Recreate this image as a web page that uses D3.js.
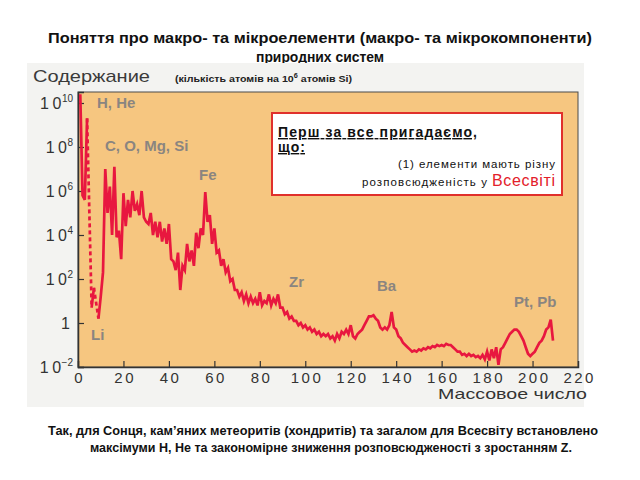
<!DOCTYPE html>
<html>
<head>
<meta charset="utf-8">
<script src="https://d3js.org/d3.v7.min.js"></script>
<style>
  body { margin: 0; background: #fff; }
  svg { display: block; font-family: "Liberation Sans", Arial, sans-serif; }
</style>
</head>
<body>
<svg id="chart" width="640" height="480"></svg>
<script>
// mass numbers 1..209 and log10 abundance (atoms per 10^6 Si), null where no stable nuclide
const massStart = 1;
const logAbundance = [
  10.4, 5.8, 5.6, 9.3, null, 0.7, 1.6, null, 0.2, 1.2,          // 1-10
  2.3, 7.0, 5.0, 6.2, 4.0, 7.1, 3.9, 4.2, 2.9, 5.9,             // 11-20
  4.4, 5.6, 4.8, 6.0, 5.1, 5.4, 4.9, 6.0, 4.8, 4.6,             // 21-30
  4.5, 5.0, 4.0, 4.6, 3.9, 4.6, 3.7, 4.3, 3.6, 4.5,             // 31-40
  2.9, 2.8, 2.4, 3.2, 1.5, 2.6, 2.4, 3.6, 2.8, 3.3,             // 41-50
  2.6, 4.1, 3.4, 4.3, 4.0, 5.95, 4.6, 4.9, 3.6, 4.3,            // 51-60
  3.2, 3.3, 2.6, 2.9, 2.3, 2.5, 1.9, 2.0, 1.5, 1.5,             // 61-70
  1.2, 1.4, 1.0, 1.3, 0.9, 1.2, 0.9, 1.1, 0.8, 1.4,             // 71-80
  0.8, 1.0, 0.9, 1.3, 0.8, 1.1, 0.9, 1.3, 0.7, 0.7,             // 81-90
  0.4, 0.5, 0.2, 0.3, 0.1, 0.1, -0.1, 0.0, -0.2, -0.1,          // 91-100
  -0.3, -0.2, -0.4, -0.3, -0.5, -0.4, -0.6, -0.5, -0.6, -0.5,   // 101-110
  -0.7, -0.6, -0.8, -0.5, -0.7, -0.4, -0.5, -0.3, -0.5, -0.1,   // 111-120
  -0.6, -0.7, -0.5, -0.4, -0.3, -0.1, 0.1, 0.3, 0.3, 0.35,      // 121-130
  0.2, 0.1, -0.2, -0.3, -0.2, -0.3, -0.1, 0.5, -0.2, -0.3,      // 131-140
  -0.6, -0.7, -0.9, -1.0, -1.1, -1.2, -1.3, -1.25, -1.3, -1.2,  // 141-150
  -1.25, -1.15, -1.2, -1.1, -1.15, -1.05, -1.1, -1.0, -1.05, -1.0, // 151-160
  -1.05, -0.95, -1.0, -1.0, -1.1, -1.2, -1.3, -1.3, -1.45, -1.4, // 161-170
  -1.5, -1.4, -1.5, -1.45, -1.55, -1.5, -1.6, -1.45, -1.65, -1.3, // 171-180
  -1.7, -1.2, -1.6, -1.1, -1.9, -1.2, -1.1, -0.9, -0.7, -0.5,   // 181-190
  -0.4, -0.3, -0.3, -0.4, -0.6, -0.8, -1.1, -1.4, -1.5, -1.4,   // 191-200
  -1.3, -1.1, -0.9, -0.8, -0.6, -0.3, -0.2, 0.15, -0.8          // 201-209
];
// gaps at A=5 and A=8 bridged with dashes
const gapPairs = [[4, 6], [7, 9]];

const yTicks = [-2, 0, 2, 4, 6, 8, 10];
const xTicks = [0, 20, 40, 60, 80, 100, 120, 140, 160, 180, 200, 220];

const elementLabels = [
  { text: "H, He", x: 97, y: 108 },
  { text: "C, O, Mg, Si", x: 105, y: 151 },
  { text: "Fe", x: 199, y: 180 },
  { text: "Zr", x: 289, y: 287 },
  { text: "Ba", x: 377, y: 291 },
  { text: "Pt, Pb", x: 514, y: 307 },
  { text: "Li", x: 91, y: 340 }
];

const svg = d3.select("#chart");

const margin = { left: 78, right: 578, top: 92, bottom: 367 };

const data = logAbundance.map((v, i) => ({ a: massStart + i, v: v }));

const x = d3.scaleLinear().domain([0, 220]).range([margin.left, margin.right]);
const y = d3.scaleLinear().domain([-2, 10.5]).range([margin.bottom, margin.top]);

// titles
svg.append("text")
  .attr("x", 320).attr("y", 43)
  .attr("text-anchor", "middle")
  .attr("font-size", 14).attr("font-weight", "bold").attr("fill", "#111")
  .attr("textLength", 544).attr("lengthAdjust", "spacingAndGlyphs")
  .text("Поняття про макро- та мікроелементи (макро- та мікрокомпоненти)");
svg.append("text")
  .attr("x", 320).attr("y", 62)
  .attr("text-anchor", "middle")
  .attr("font-size", 14).attr("font-weight", "bold").attr("fill", "#111")
  .attr("textLength", 128).attr("lengthAdjust", "spacingAndGlyphs")
  .text("природних систем");

// grey panel behind the picture
svg.append("rect")
  .attr("x", 27).attr("y", 63).attr("width", 557).attr("height", 344)
  .attr("fill", "#f3f3f1");

svg.append("text")
  .attr("x", 33).attr("y", 82)
  .attr("font-size", 17).attr("fill", "#3a3a3a")
  .attr("textLength", 117).attr("lengthAdjust", "spacingAndGlyphs")
  .text("Содержание");

const sub = svg.append("text")
  .attr("x", 175).attr("y", 82)
  .attr("font-size", 9.5).attr("font-weight", "bold").attr("fill", "#222")
  .attr("textLength", 177).attr("lengthAdjust", "spacingAndGlyphs");
sub.append("tspan").text("(кількість атомів на 10");
sub.append("tspan").attr("font-size", 6.5).attr("dy", -4).text("6");
sub.append("tspan").attr("dy", 4).text(" атомів Si)");

// plot area
svg.append("rect")
  .attr("x", margin.left).attr("y", margin.top)
  .attr("width", margin.right - margin.left).attr("height", margin.bottom - margin.top)
  .attr("fill", "#f6c680").attr("stroke", "#4a4a4a").attr("stroke-width", 1);

// y axis
const yAxis = d3.axisLeft(y).tickValues(yTicks).tickSize(-6).tickPadding(6).tickFormat("");
const gy = svg.append("g").attr("transform", `translate(${margin.left},0)`).call(yAxis);
gy.select(".domain").attr("stroke", "#333").attr("stroke-width", 1.5);
gy.selectAll(".tick line").attr("stroke", "#333").attr("stroke-width", 1.2);
gy.selectAll(".tick").each(function (d) {
  const t = d3.select(this).select("text")
    .attr("x", -5).attr("dy", "0.35em")
    .attr("font-size", 16).attr("fill", "#333")
    .attr("font-family", "'Liberation Sans', Arial, sans-serif");
  if (d === 0) {
    t.attr("x", -8).text("1");
  } else {
    t.append("tspan").attr("letter-spacing", 3.5).text("1");
    t.append("tspan").text("0");
    t.append("tspan").attr("font-size", 10).attr("dx", 0.5).attr("dy", -7).text(d < 0 ? "−" + (-d) : d);
  }
});

// x axis
const xAxis = d3.axisBottom(x).tickValues(xTicks).tickSize(-6).tickPadding(5).tickFormat(d3.format("d"));
const gx = svg.append("g").attr("transform", `translate(0,${margin.bottom})`).call(xAxis);
gx.select(".domain").attr("stroke", "#333").attr("stroke-width", 1.5);
gx.selectAll(".tick line").attr("stroke", "#333").attr("stroke-width", 1.2)
  .attr("display", d => (d === 0 || d === 220) ? "none" : null);
gx.selectAll(".tick text")
  .attr("font-size", 15).attr("fill", "#333")
  .attr("letter-spacing", 2.5).attr("dx", 1.2)
  .attr("font-family", "'Liberation Sans', Arial, sans-serif");

svg.append("text")
  .attr("x", 587).attr("y", 399)
  .attr("text-anchor", "end")
  .attr("font-size", 15).attr("fill", "#333")
  .attr("textLength", 149).attr("lengthAdjust", "spacingAndGlyphs")
  .text("Массовое число");

// abundance curve
const line = d3.line()
  .defined(d => d.v !== null)
  .x(d => x(d.a))
  .y(d => y(d.v));

svg.append("path")
  .datum(data)
  .attr("d", line)
  .attr("fill", "none")
  .attr("stroke", "#e8173f")
  .attr("stroke-width", 2.7)
  .attr("stroke-linejoin", "miter");

gapPairs.forEach(p => {
  const seg = p.map(a => data[a - massStart]);
  svg.append("path")
    .datum(seg)
    .attr("d", line)
    .attr("fill", "none")
    .attr("stroke", "#e8173f")
    .attr("stroke-width", 2.7)
    .attr("stroke-dasharray", "4,3");
});

// element labels
svg.selectAll(".elab")
  .data(elementLabels)
  .join("text")
  .attr("class", "elab")
  .attr("x", d => d.x).attr("y", d => d.y)
  .attr("font-size", 15).attr("font-weight", "bold").attr("fill", "#8a8580")
  .text(d => d.text);

// note box
svg.append("rect")
  .attr("x", 272).attr("y", 113).attr("width", 290).attr("height", 82)
  .attr("fill", "#fff").attr("stroke", "#e0302c").attr("stroke-width", 2);

svg.append("text")
  .attr("x", 278).attr("y", 137)
  .attr("font-size", 14).attr("font-weight", "bold").attr("fill", "#111")
  .attr("text-decoration", "underline")
  .attr("textLength", 199).attr("lengthAdjust", "spacing")
  .text("Перш за все пригадаємо,");
svg.append("text")
  .attr("x", 278).attr("y", 152)
  .attr("font-size", 14).attr("font-weight", "bold").attr("fill", "#111")
  .attr("text-decoration", "underline")
  .attr("textLength", 27).attr("lengthAdjust", "spacing")
  .text("що:");
svg.append("text")
  .attr("x", 398).attr("y", 168)
  .attr("font-size", 11.5).attr("fill", "#111")
  .attr("textLength", 157).attr("lengthAdjust", "spacing")
  .text("(1) елементи мають різну");
svg.append("text")
  .attr("x", 362).attr("y", 186)
  .attr("font-size", 11.5).attr("fill", "#111")
  .attr("textLength", 125).attr("lengthAdjust", "spacing")
  .text("розповсюдженість у");
svg.append("text")
  .attr("x", 492).attr("y", 186)
  .attr("font-size", 16).attr("fill", "#e3202a")
  .attr("textLength", 63).attr("lengthAdjust", "spacing")
  .text("Всесвіті");

// caption
svg.append("text")
  .attr("x", 48).attr("y", 435)
  .attr("font-size", 12).attr("font-weight", "bold").attr("fill", "#111")
  .attr("textLength", 550).attr("lengthAdjust", "spacingAndGlyphs")
  .text("Так, для Сонця, кам’яних метеоритів (хондритів) та загалом для Всесвіту встановлено");
svg.append("text")
  .attr("x", 90).attr("y", 452)
  .attr("font-size", 12).attr("font-weight", "bold").attr("fill", "#111")
  .attr("textLength", 482).attr("lengthAdjust", "spacingAndGlyphs")
  .text("максімуми H, He та закономірне зниження розповсюдженості з зростанням Z.");
</script>
</body>
</html>
